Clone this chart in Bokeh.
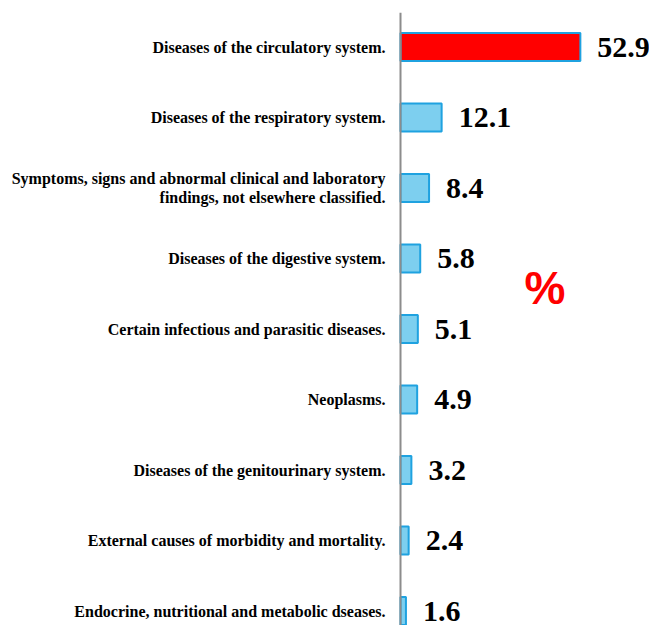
from bokeh.plotting import figure
from bokeh.models import Range1d, Span, ColumnDataSource, Label
from bokeh.core.properties import value
from bokeh.embed import file_html
from bokeh.resources import INLINE

categories = [
    "Diseases of the circulatory system.",
    "Diseases of the respiratory system.",
    "Symptoms, signs and abnormal clinical and laboratory\nfindings, not elsewhere classified.",
    "Diseases of the digestive system.",
    "Certain infectious and parasitic diseases.",
    "Neoplasms.",
    "Diseases of the genitourinary system.",
    "External causes of morbidity and mortality.",
    "Endocrine, nutritional and metabolic dseases.",
]
values = [52.9, 12.1, 8.4, 5.8, 5.1, 4.9, 3.2, 2.4, 1.6]
bar_colors = ["#FF0000"] + ["#7DCFEF"] * 8
value_labels = [f"{v:.1f}" for v in values]
positions = list(range(len(categories)))

W, H = 649, 625
PX_PER_UNIT = 3.4
AXIS_PX = 400
ROW_PX = 70.5
TOP_BORDER = 12
ROW0_PX = 34.5

frame_h = H - TOP_BORDER
x_start = -AXIS_PX / PX_PER_UNIT
x_end = (W - AXIS_PX) / PX_PER_UNIT
y_top = -ROW0_PX / ROW_PX
y_bottom = (frame_h - ROW0_PX) / ROW_PX

p = figure(width=W, height=H, output_backend="svg", toolbar_location=None,
           x_range=Range1d(x_start, x_end), y_range=Range1d(y_bottom, y_top),
           min_border_left=0, min_border_right=0, min_border_bottom=0,
           min_border_top=TOP_BORDER)
p.axis.visible = False
p.grid.visible = False
p.outline_line_color = None
p.background_fill_color = "white"

src = ColumnDataSource(dict(y=positions, v=values, c=bar_colors, lab=value_labels,
                            cat=categories, zero=[0] * len(values)))

p.hbar(y="y", left="zero", right="v", height=0.395, fill_color="c",
       line_color="#1FA2E0", line_width=2, source=src)

p.text(x="v", y="y", text="lab", source=src, x_offset=17,
       text_font=value("Liberation Serif"), text_font_style="bold",
       text_font_size="30px", text_baseline="middle", text_align="left",
       text_color="black")

p.text(x="zero", y="y", text="cat", source=src, x_offset=-15,
       text_font=value("Liberation Serif"), text_font_style="bold",
       text_font_size="16px", text_baseline="middle", text_align="right",
       text_color="black", text_line_height=1.1)

p.add_layout(Span(location=0, dimension="height", line_color="#8C8C8C", line_width=2))

p.add_layout(Label(x=36.5, y=3.42, text="%", text_color="#FF0000",
                   text_font="Liberation Sans", text_font_style="bold",
                   text_font_size="46px", text_baseline="middle", text_align="left"))

open("out.html", "w").write(file_html(p, INLINE))
